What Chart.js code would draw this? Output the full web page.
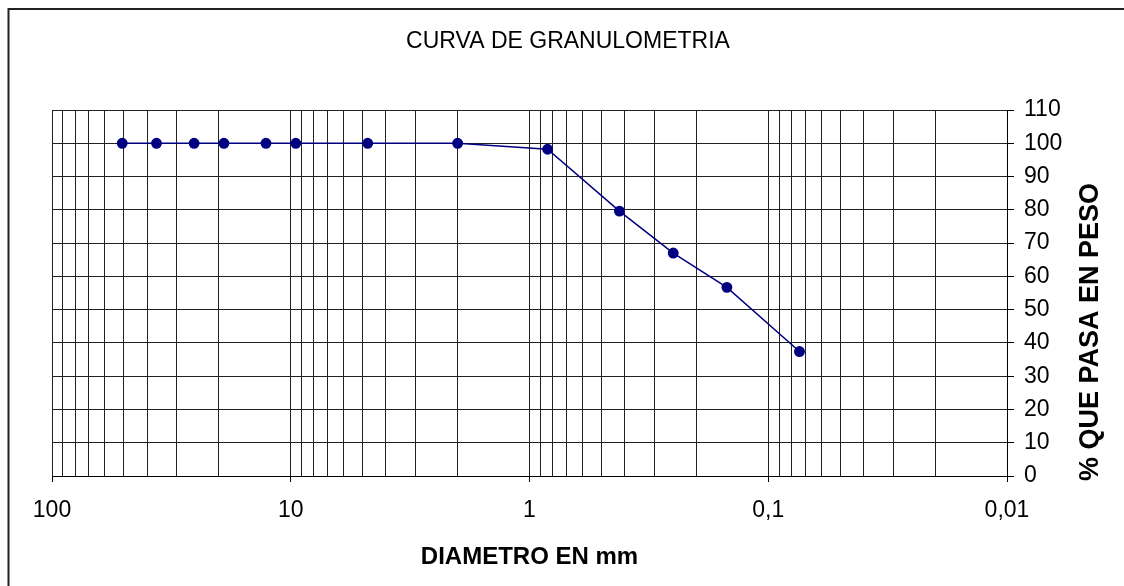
<!DOCTYPE html>
<html>
<head>
<meta charset="utf-8">
<script src="https://cdn.jsdelivr.net/npm/chart.js@4.4.1/dist/chart.umd.min.js"></script>
<style>
  html, body { margin: 0; padding: 0; background: #fff; }
  #wrap { position: relative; width: 1124px; height: 586px; overflow: hidden; }
</style>
</head>
<body>
<div id="wrap"><canvas id="granulometria-canvas" width="1124" height="586"></canvas></div>
<script>
// Datos (diametro en mm, % que pasa)
const diametros = [50.8, 36.5, 25.4, 19.05, 12.7, 9.525, 4.76, 2.0, 0.84, 0.42, 0.25, 0.149, 0.074];
const porcentajePasa = [100, 100, 100, 100, 100, 100, 100, 100, 98.2, 79.6, 67, 56.7, 37.4];

// Escalas
const decadas = [0.01, 0.1, 1, 10, 100];
const multiplos = [1, 2, 3, 4, 5, 6, 7, 8, 9];
const yMin = 0;
const yMax = 110;
const yPaso = 10;

const titulo = 'CURVA DE GRANULOMETRIA';
const tituloX = 'DIAMETRO EN mm';
const tituloY = '% QUE PASA EN PESO';

const fuente = "'Liberation Sans', Arial, sans-serif";
const azul = '#000080';

// marcas del eje log: 1..9 por cada decada
const marcasX = [];
decadas.slice(0, -1).forEach(d => {
    multiplos.forEach(m => marcasX.push(Number((m * d).toPrecision(6))));
});
marcasX.push(decadas[decadas.length - 1]);

const puntos = diametros.map((d, i) => ({ x: d, y: porcentajePasa[i] }));

// Marco de la hoja y titulo principal
const marcoPlugin = {
    id: 'marco',
    beforeDraw(chart) {
        const c = chart.ctx;
        c.save();
        c.strokeStyle = '#222';
        c.lineWidth = 2;
        c.beginPath();
        c.moveTo(8.5, chart.height);
        c.lineTo(8.5, 9);
        c.lineTo(chart.width, 9);
        c.stroke();

        c.font = '23px ' + fuente;
        c.fillStyle = '#000';
        c.textAlign = 'center';
        c.textBaseline = 'middle';
        c.fillText(titulo, 568, 42);
        c.restore();
    }
};

// Titulo del eje Y, leido de abajo hacia arriba
const tituloYPlugin = {
    id: 'tituloY',
    afterDraw(chart) {
        const c = chart.ctx;
        c.save();
        c.translate(1091, 332);
        c.rotate(-Math.PI / 2);
        c.font = 'bold 27px ' + fuente;
        c.fillStyle = '#000';
        c.textAlign = 'center';
        c.textBaseline = 'middle';
        c.fillText(tituloY, 0, 0);
        c.restore();
    }
};

const ctx = document.getElementById('granulometria-canvas').getContext('2d');

const chart = new Chart(ctx, {
    type: 'line',
    data: {
        datasets: [{
            label: tituloY,
            data: puntos,
            borderColor: azul,
            backgroundColor: azul,
            borderWidth: 1.5,
            pointRadius: 4.7,
            pointBackgroundColor: azul,
            pointBorderColor: azul,
            tension: 0,
            fill: false
        }]
    },
    options: {
        responsive: false,
        animation: false,
        layout: { padding: { left: 52, right: 0, top: 110, bottom: 0 } },
        plugins: {
            legend: { display: false },
            tooltip: { enabled: false },
            title: { display: false }
        },
        scales: {
            x: {
                type: 'logarithmic',
                reverse: true,
                min: decadas[0],
                max: decadas[decadas.length - 1],
                afterBuildTicks: scale => {
                    scale.ticks = marcasX.map(v => ({ value: v, major: decadas.includes(v) }));
                },
                afterFit: scale => { scale.height = 110; },
                ticks: {
                    autoSkip: false,
                    maxRotation: 0,
                    padding: 15,
                    color: '#000',
                    font: { family: fuente, size: 23 },
                    callback: v => decadas.includes(v) ? String(v).replace('.', ',') : ''
                },
                grid: {
                    color: '#222',
                    lineWidth: 1,
                    tickLength: 6,
                    tickColor: c => (c.tick && decadas.includes(c.tick.value)) ? '#000' : 'rgba(0,0,0,0)'
                },
                border: { color: '#000', width: 1 },
                title: {
                    display: true,
                    text: tituloX,
                    color: '#000',
                    font: { family: fuente, size: 24, weight: 'bold' },
                    padding: { top: 0, bottom: 14 }
                }
            },
            y: {
                position: 'right',
                min: yMin,
                max: yMax,
                afterFit: scale => { scale.width = 117; },
                ticks: {
                    stepSize: yPaso,
                    padding: 10,
                    color: '#000',
                    font: { family: fuente, size: 23 }
                },
                grid: {
                    color: '#222',
                    lineWidth: 1,
                    tickLength: 7,
                    tickColor: '#000'
                },
                border: { color: '#000', width: 1 }
            }
        }
    },
    plugins: [marcoPlugin, tituloYPlugin]
});
</script>
</body>
</html>
